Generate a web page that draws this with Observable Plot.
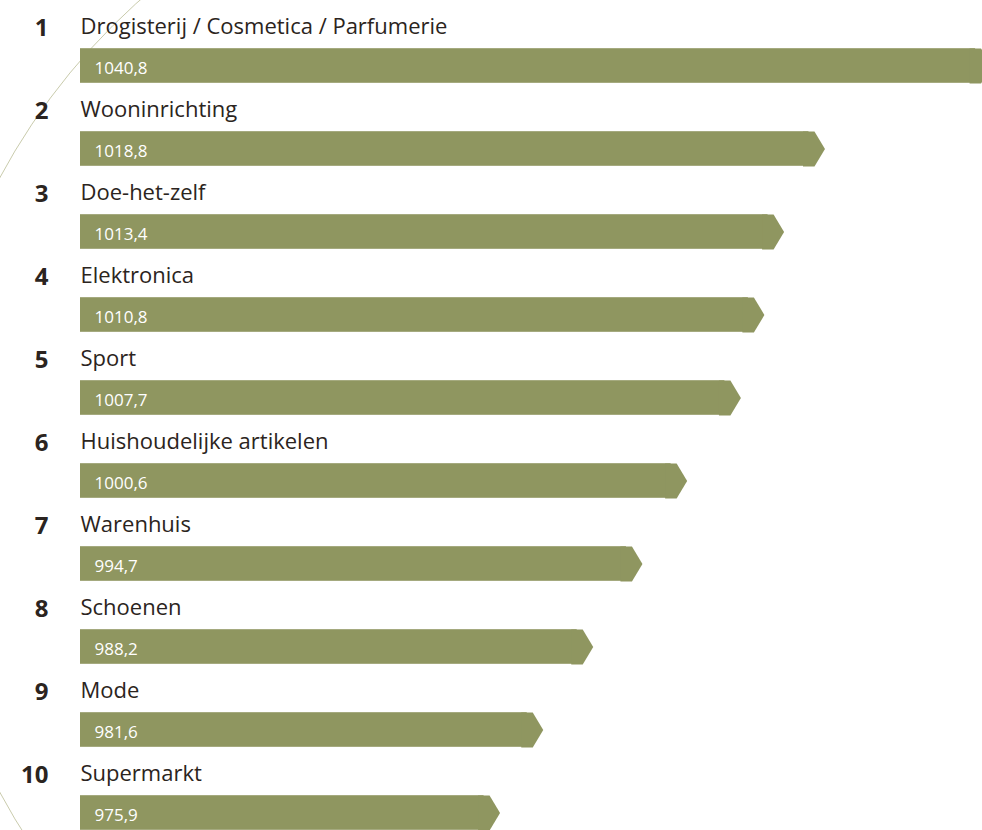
<!DOCTYPE html>
<html><head><meta charset="utf-8">
<script src="https://cdn.jsdelivr.net/npm/d3@7"></script>
<script src="https://cdn.jsdelivr.net/npm/@observablehq/plot@0.6"></script>
<style>
html,body{margin:0;padding:0;background:#fff;overflow:hidden}
#wrap{position:relative;width:982px;height:830px;overflow:hidden;background:#fff}
.arc{position:absolute;left:-78px;top:-165px;width:1300px;height:1300px;border-radius:50%;border:1px solid #c9cbac;box-sizing:border-box}
#chart{position:relative}
</style></head><body>
<div id="wrap"><div class="arc"></div><div id="chart"></div></div>
<script>
const ranks = [1, 2, 3, 4, 5, 6, 7, 8, 9, 10];
const categories = [
  "Drogisterij / Cosmetica / Parfumerie",
  "Wooninrichting",
  "Doe-het-zelf",
  "Elektronica",
  "Sport",
  "Huishoudelijke artikelen",
  "Warenhuis",
  "Schoenen",
  "Mode",
  "Supermarkt"
];
const values = [1040.8, 1018.8, 1013.4, 1010.8, 1007.7, 1000.6, 994.7, 988.2, 981.6, 975.9];

const data = ranks.map((r, i) => ({rank: r, category: categories[i], value: values[i]}));
const fmt = d3.formatLocale({decimal: ",", thousands: ".", grouping: [3], currency: ["€", ""]}).format(".1f");
const xBase = 920.5;
const barColor = "#8f9660";
const textColor = "#2b2420";
// arrow tip: overlaps the bar's last px so no seam shows
const arrowHead = {
  draw(ctx) {
    ctx.moveTo(-22, -17.5);
    ctx.lineTo(-10.5, -17.5);
    ctx.lineTo(0, 0);
    ctx.lineTo(-10.5, 17.5);
    ctx.lineTo(-22, 17.5);
    ctx.closePath();
  }
};

const chart = Plot.plot({
  width: 982,
  height: 830,
  margin: 0,
  style: {background: "transparent", fontFamily: "'Open Sans', sans-serif"},
  x: {domain: [xBase, 1039.6], range: [80, 982], axis: null},
  y: {type: "band", domain: ranks, range: [21.8, 855.8], padding: 0, axis: null},
  marks: [
    Plot.barX(data, {x1: () => xBase, x2: "value", y: "rank", fill: barColor, insetTop: 24.2, insetBottom: 24.2, insetRight: 16}),
    Plot.dot(data, {x: "value", y: "rank", symbol: arrowHead, r: 5, fill: barColor, stroke: "none"}),
    Plot.text(data, {x: () => xBase, y: "rank", text: d => String(d.rank), dx: -32, dy: -38, textAnchor: "end", fontWeight: 700, fontSize: 24, fill: textColor}),
    Plot.text(data, {x: () => xBase, y: "rank", text: "category", dy: -39, textAnchor: "start", fontSize: 22, fill: textColor}),
    Plot.text(data, {x: () => xBase, y: "rank", text: d => fmt(d.value), dx: 14, dy: 2.5, textAnchor: "start", fontSize: 17, fill: "#ffffff"})
  ]
});
document.getElementById("chart").appendChild(chart);
</script>
</body></html>
